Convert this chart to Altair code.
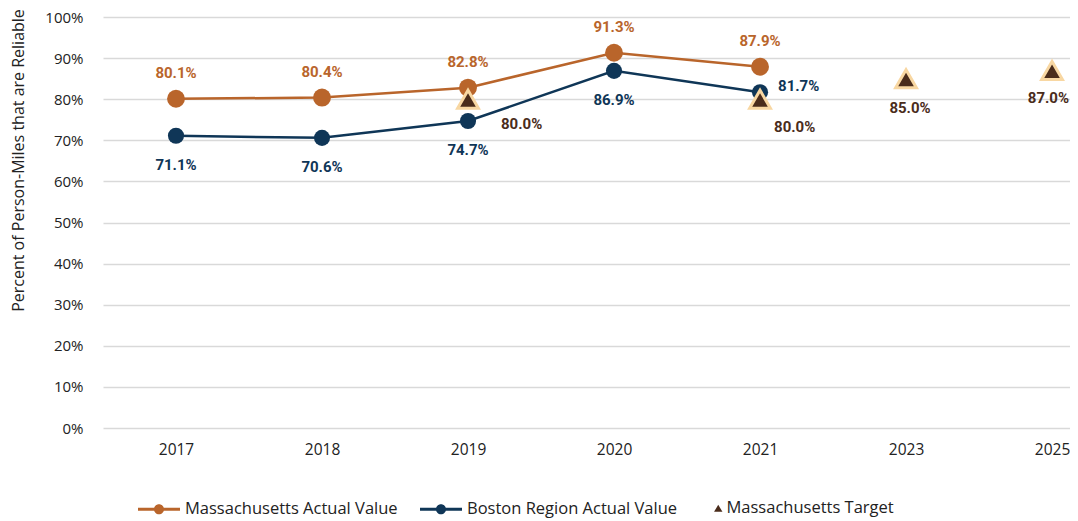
import altair as alt
import pandas as pd

years = ["2017", "2018", "2019", "2020", "2021", "2023", "2025"]
actual_years = ["2017", "2018", "2019", "2020", "2021"]
ma_values = [0.801, 0.804, 0.828, 0.913, 0.879]
boston_values = [0.711, 0.706, 0.747, 0.869, 0.817]
target_years = ["2019", "2021", "2023", "2025"]
target_values = [0.80, 0.80, 0.85, 0.87]

series_names = ["Massachusetts Actual Value", "Boston Region Actual Value", "Massachusetts Target"]
ma_place = ["above", "above", "above", "above", "above"]
boston_place = ["below", "below", "below", "below", "right"]
target_place = ["right_far", "right_near", "below_t", "below_edge"]

ORANGE = "#B9652B"
NAVY = "#0F3657"
BROWN = "#4A2C1B"
PEACH = "#F8D7A2"
FONT = "Open Sans"
BFONT = "Roboto"

rows = []
for y, v, p in zip(actual_years, ma_values, ma_place):
    rows.append(dict(idx=years.index(y), series=series_names[0], value=v, place=p))
for y, v, p in zip(actual_years, boston_values, boston_place):
    rows.append(dict(idx=years.index(y), series=series_names[1], value=v, place=p))
for y, v, p in zip(target_years, target_values, target_place):
    rows.append(dict(idx=years.index(y), series=series_names[2], value=v, place=p))
df = pd.DataFrame(rows)

offsets = {
    "above": (0, -26, "center"),
    "below": (0, 29, "center"),
    "right": (18, -6, "left"),
    "right_far": (33, 25, "left"),
    "right_near": (14, 28, "left"),
    "below_t": (4, 29, "center"),
    "below_edge": (17, 28, "right"),
}
text_colors = {series_names[0]: ORANGE, series_names[1]: NAVY, series_names[2]: BROWN}
series_colors = {series_names[0]: ORANGE, series_names[1]: NAVY}
circle_sizes = {series_names[0]: 320, series_names[1]: 260}

label_expr = "[" + ",".join("'%s'" % y for y in years) + "][datum.value]"

x_enc = alt.X(
    "idx:Q",
    scale=alt.Scale(domain=[-0.5, 6.123], nice=False, zero=False),
    axis=alt.Axis(values=list(range(len(years))), labelExpr=label_expr, title=None,
                  grid=False, ticks=False, domain=False, labelPadding=14,
                  labelFont=FONT, labelFontSize=15.5, labelColor="#222"),
)
y_enc = alt.Y(
    "value:Q",
    scale=alt.Scale(domain=[0, 1], nice=False),
    axis=alt.Axis(values=[i / 10 for i in range(11)], format=".0%", title="Percent of Person-Miles that are Reliable",
                  grid=True, gridColor="#D9D9D9", gridWidth=1.5, ticks=False, domain=False,
                  labelPadding=20, labelFont=FONT, labelFontSize=15, labelColor="#222",
                  titleFont=FONT, titleFontSize=16, titleFontWeight="normal", titleColor="#222",
                  titleX=-85, titleY=143, titleAngle=-90, titleAlign="center", titleBaseline="middle"),
)

base = alt.Chart(df)

line_layers = []
point_layers = []
for i, s in enumerate(series_names[:2]):
    enc_x = x_enc if i == 0 else "idx:Q"
    enc_y = y_enc if i == 0 else "value:Q"
    line_layers.append(
        base.transform_filter(alt.datum.series == s).mark_line(strokeWidth=2.5, color=series_colors[s])
        .encode(x=enc_x, y=enc_y)
    )
    point_layers.append(
        base.transform_filter(alt.datum.series == s).mark_circle(opacity=1, size=circle_sizes[s], color=series_colors[s])
        .encode(x="idx:Q", y="value:Q")
    )

targets = base.transform_filter(alt.datum.series == series_names[2]).mark_point(
    shape="triangle-up", filled=True, fill=BROWN, stroke=PEACH, strokeWidth=3, size=430, opacity=1
).encode(x="idx:Q", y="value:Q")

text_layers = []
for s in series_names:
    for pname, (dx, dy, al) in offsets.items():
        sub = df[(df.series == s) & (df.place == pname)]
        if len(sub) == 0:
            continue
        t = base.transform_filter((alt.datum.series == s) & (alt.datum.place == pname)).mark_text(
            dx=dx, dy=dy, align=al, baseline="middle", font=BFONT, fontSize=15, fontWeight="bold",
            color=text_colors[s]
        ).encode(x="idx:Q", y="value:Q", text=alt.Text("value:Q", format=".1%"))
        text_layers.append(t)

circ = "M0.24,0 A0.24,0.24 0 1,1 -0.24,0 A0.24,0.24 0 1,1 0.24,0 Z"
bar = "M-1,-0.07 H1 V0.07 H-1 Z"
lc_path = bar + " " + circ

leg_a = alt.Legend(title=None, orient="none", direction="horizontal", legendX=35, legendY=471,
                   symbolSize=1764, labelFont=FONT, labelFontSize=16.5, labelColor="#222", labelLimit=0,
                   columnPadding=22, labelOffset=5, symbolStrokeWidth=0)
legend_a = base.transform_filter("false").transform_calculate(lseries="datum.series").mark_point(
    filled=True, opacity=1
).encode(
    x="idx:Q", y="value:Q",
    fill=alt.Fill("lseries:N", scale=alt.Scale(domain=series_names[:2], range=[ORANGE, NAVY]), legend=leg_a),
    shape=alt.Shape("lseries:N", scale=alt.Scale(domain=series_names[:2], range=[lc_path, lc_path]), legend=leg_a),
)
leg_b = alt.Legend(title=None, orient="none", direction="horizontal", legendX=607, legendY=483,
                   symbolType="triangle-up", symbolSize=70, symbolStrokeWidth=0,
                   labelFont=FONT, labelFontSize=16.5, labelColor="#222", labelLimit=0, labelOffset=0)
legend_b = base.transform_filter("false").transform_calculate(tseries="datum.series").mark_point(
    filled=True, opacity=1
).encode(
    x="idx:Q", y="value:Q",
    color=alt.Color("tseries:N", scale=alt.Scale(domain=series_names[2:], range=[BROWN]), legend=leg_b),
)

chart = alt.layer(*line_layers, *point_layers, targets, *text_layers, legend_a, legend_b).properties(
    width=967, height=411,
    autosize=alt.AutoSizeParams(type="none"),
    padding={"left": 95, "top": 9, "right": 0, "bottom": 91},
).configure_view(stroke=None)

chart.save("out.html", embed_options={"renderer": "svg", "actions": False})
